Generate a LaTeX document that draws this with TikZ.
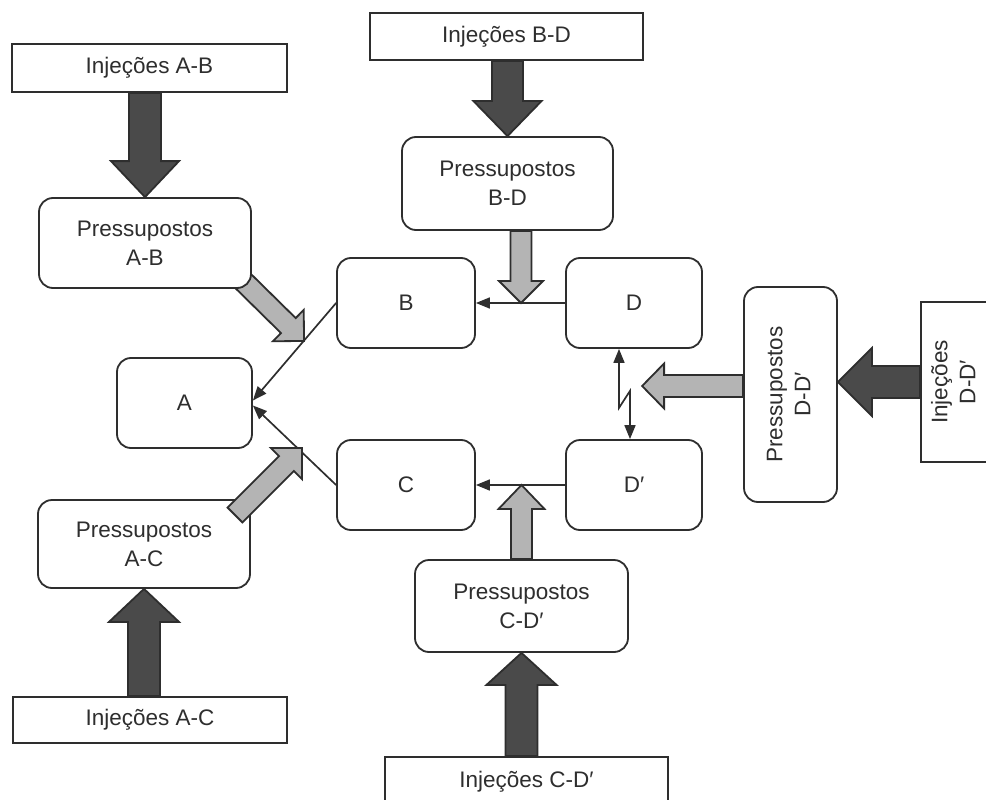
\documentclass[tikz,border=0pt]{standalone}
\usepackage{fontspec}
\setmainfont{Liberation Sans}
\usetikzlibrary{calc,arrows.meta,backgrounds}
\definecolor{ink}{HTML}{2E2E2E}
\definecolor{darkfill}{HTML}{4A4A4A}
\definecolor{lightfill}{HTML}{B4B4B4}

% Block arrow from #2 to #3: shaft half-width #4, head half-width #5, head length #6
\newcommand\fatarrow[6]{%
  \coordinate (fahb) at ($(#3)!#6!(#2)$);
  \draw[#1] ($(#2)!#4!90:(#3)$) -- ($(fahb)!#4!90:(#3)$) -- ($(fahb)!#5!90:(#3)$)
    -- (#3) -- ($(fahb)!#5!-90:(#3)$) -- ($(fahb)!#4!-90:(#3)$)
    -- ($(#2)!#4!-90:(#3)$) -- cycle;}

\begin{document}
\begin{tikzpicture}[x=1pt,y=-1pt,
  lbl/.style={font=\fontsize{22.5}{29}\selectfont, text=ink, align=center, inner sep=0pt},
  injbox/.style={lbl, draw=ink, line width=1.8pt, fill=white},
  rbox/.style={lbl, draw=ink, line width=1.8pt, fill=white, rounded corners=14pt},
  tip/.style={Triangle[length=14pt,width=11pt]},
  thin/.style={draw=ink, line width=1.7pt, -{Triangle[length=14pt,width=11pt]}},
  twoway/.style={draw=ink, line width=1.7pt, {Triangle[length=14pt,width=11pt]}-{Triangle[length=14pt,width=11pt]}},
  darkarrow/.style={draw=ink, line width=1.8pt, fill=darkfill},
  lightarrow/.style={draw=ink, line width=1.8pt, fill=lightfill},
]
\useasboundingbox (0,0) rectangle (986,800);

% injection boxes
\node[injbox, minimum width=275pt, minimum height=48pt] (iAB) at (149.5,68) {Injeções A-B};
\node[injbox, minimum width=273pt, minimum height=47pt] (iBD) at (506.5,36.5) {Injeções B-D};
\node[injbox, minimum width=274pt, minimum height=46pt] (iAC) at (150,720) {Injeções A-C};
\node[injbox, minimum width=283pt, minimum height=50pt] (iCD) at (526.5,782) {Injeções C-D′};
\node[injbox, minimum width=69pt, minimum height=160pt] (iDD) at (955.5,382)
  {\rotatebox{90}{\begin{tabular}{@{}c@{}}Injeções\\[-1pt] D-D′\end{tabular}}};

% assumption boxes
\node[rbox, minimum width=212pt, minimum height=90pt] (pAB) at (145,243) {Pressupostos\\A-B};
\node[rbox, minimum width=211pt, minimum height=93pt] (pBD) at (507.5,183.5) {Pressupostos\\B-D};
\node[rbox, minimum width=212pt, minimum height=88pt] (pAC) at (144,544) {Pressupostos\\A-C};
\node[rbox, minimum width=213pt, minimum height=92pt] (pCD) at (521.5,606) {Pressupostos\\C-D′};
\node[rbox, minimum width=93pt, minimum height=215pt] (pDD) at (790.5,394.5)
  {\rotatebox{90}{\begin{tabular}{@{}c@{}}Pressupostos\\[-1pt] D-D′\end{tabular}}};

% core boxes
\node[rbox, minimum width=135pt, minimum height=90pt] (A) at (184.5,403) {A};
\node[rbox, minimum width=138pt, minimum height=90pt] (B) at (406,303) {B};
\node[rbox, minimum width=138pt, minimum height=90pt] (C) at (406,485) {C};
\node[rbox, minimum width=136pt, minimum height=90pt] (D) at (634,303) {D};
\node[rbox, minimum width=136pt, minimum height=90pt] (Dp) at (634,485) {D′};

% thin connectors
\coordinate (aTop) at ($(A.east)+(0,-2.5)$);
\coordinate (aBot) at ($(A.east)+(0,2.5)$);
\draw[thin] (D.west) -- (B.east);
\draw[thin] (Dp.west) -- (C.east);
\draw[thin] (B.west) -- (aTop);
\draw[thin] (C.west) -- (aBot);

% broken two-way link between D and D'
\coordinate (z1) at ($(D.south)+(-15,0)$);
\coordinate (z2) at ($(D.south)+(-15,59)$);
\coordinate (z3) at ($(D.south)+(-4,42)$);
\coordinate (z4) at ($(Dp.north)+(-4,0)$);
\draw[twoway] (z1) -- (z2) -- (z3) -- (z4);

% dark block arrows (injections)
\coordinate (dABs) at (pAB.north |- iAB.south);
\fatarrow{darkarrow}{dABs}{pAB.north}{16pt}{34pt}{36pt}
\coordinate (dBDs) at (pBD.north |- iBD.south);
\fatarrow{darkarrow}{dBDs}{pBD.north}{15.5pt}{34pt}{35pt}
\coordinate (dACs) at (pAC.south |- iAC.north);
\fatarrow{darkarrow}{dACs}{pAC.south}{16pt}{35pt}{33pt}
\coordinate (dCDs) at (pCD.south |- iCD.north);
\fatarrow{darkarrow}{dCDs}{pCD.south}{16pt}{35pt}{32pt}
\coordinate (dDDt) at (pDD.east |- iDD.west);
\fatarrow{darkarrow}{iDD.west}{dDDt}{16pt}{34pt}{34pt}

% light block arrows (assumptions)
\coordinate (gBDs) at ($(pBD.south)+(13.5,0)$);
\coordinate (gBDt) at (gBDs |- D.west);
\fatarrow{lightarrow}{gBDs}{gBDt}{10.5pt}{22pt}{22pt}
\coordinate (gCDt) at (pCD.north |- Dp.west);
\fatarrow{lightarrow}{pCD.north}{gCDt}{10.5pt}{23pt}{24pt}
\coordinate (gDDs) at ($(pDD.west)+(0,-8.5)$);
\coordinate (gDDt) at ($(gDDs)+(-101,0)$);
\fatarrow{lightarrow}{gDDs}{gDDt}{11pt}{22.5pt}{22pt}
\coordinate (gACs) at (235,515);
\coordinate (gACt) at (302,448);
\fatarrow{lightarrow}{gACs}{gACt}{10.5pt}{22pt}{22pt}
\begin{pgfonlayer}{background}
  \coordinate (gABs) at (237,275);
  \coordinate (gABt) at (304,341);
  \fatarrow{lightarrow}{gABs}{gABt}{10.5pt}{22pt}{22pt}
\end{pgfonlayer}
\end{tikzpicture}
\end{document}
